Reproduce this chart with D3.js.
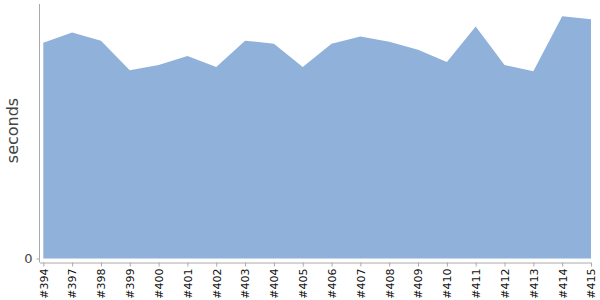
<!DOCTYPE html>
<html>
<head>
<meta charset="utf-8">
<script src="https://cdn.jsdelivr.net/npm/d3@7"></script>
<style>
  body { margin: 0; background: #fff; }
  svg text { font-family: "DejaVu Sans", sans-serif; }
</style>
</head>
<body>
<div id="chart"></div>
<script>
// build labels and the timing for each build
const builds = ["#394", "#397", "#398", "#399", "#400", "#401", "#402", "#403", "#404", "#405",
                "#406", "#407", "#408", "#409", "#410", "#411", "#412", "#413", "#414", "#415"];
const seconds = [212, 222, 214, 185, 190, 199, 188, 214, 211, 188,
                 211, 218, 213, 205, 193, 228, 190, 184, 238, 235];
const yTicks = [0];

const width = 600, height = 300;
const svg = d3.select("#chart").append("svg")
    .attr("width", width)
    .attr("height", height);

let x = d3.scalePoint()
    .domain(builds)
    .range([43.3, 591]);

let y = d3.scaleLinear()
    .domain([0, 250])
    .range([258.5, 4]);

let area = d3.area()
    .x((d, i) => x(builds[i]))
    .y0(y(0))
    .y1(d => y(d));

svg.append("path")
    .datum(seconds)
    .attr("fill", "#8fb1da")
    .attr("d", area);

// x axis, a few pixels below the area
let xAxis = svg.append("g")
    .attr("transform", `translate(0, ${262.5})`)
    .call(d3.axisBottom(x).tickSize(4).tickSizeOuter(0));
xAxis.select(".domain")
    .attr("stroke", "#aaa")
    .attr("d", `M40,0.5H${x("#415")}`);
xAxis.selectAll(".tick line").attr("stroke", "#aaa");
xAxis.selectAll(".tick text")
    .attr("transform", "rotate(-90)")
    .attr("text-anchor", "end")
    .attr("x", -6)
    .attr("y", 0)
    .attr("dy", "0.35em")
    .attr("font-size", 11)
    .attr("fill", "#111");

// y axis, just left of the area
let yAxis = svg.append("g")
    .attr("transform", `translate(${39.5}, 0)`)
    .call(d3.axisLeft(y).tickValues(yTicks).tickSize(3).tickSizeOuter(0));
yAxis.select(".domain")
    .attr("stroke", "#aaa")
    .attr("d", `M0,4V${262.5}`);
yAxis.selectAll(".tick line").attr("stroke", "#aaa");
yAxis.selectAll(".tick text")
    .attr("x", -7)
    .attr("font-size", 13)
    .attr("fill", "#444");

svg.append("text")
    .attr("transform", "rotate(-90)")
    .attr("x", -130.5)
    .attr("y", 18)
    .attr("text-anchor", "middle")
    .attr("font-size", 16)
    .attr("fill", "#444")
    .text("seconds");
</script>
</body>
</html>
